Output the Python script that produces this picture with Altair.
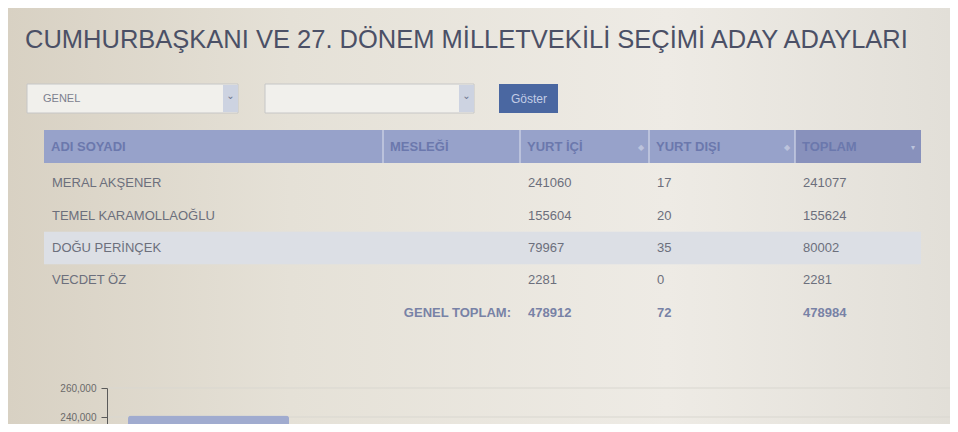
import altair as alt
import pandas as pd

# ---------------- data ----------------
baslik = "CUMHURBAŞKANI VE 27. DÖNEM MİLLETVEKİLİ SEÇİMİ ADAY ADAYLARI"
sutunlar = ["ADI SOYADI", "MESLEĞİ", "YURT İÇİ", "YURT DIŞI", "TOPLAM"]
adaylar = ["MERAL AKŞENER", "TEMEL KARAMOLLAOĞLU", "DOĞU PERİNÇEK", "VECDET ÖZ"]
yurt_ici = [241060, 155604, 79967, 2281]
yurt_disi = [17, 20, 35, 0]
toplam = [241077, 155624, 80002, 2281]
genel_toplam_etiket = "GENEL TOPLAM:"
genel_toplam = [478912, 72, 478984]
secim_turu = "GENEL"
buton = "Göster"
y_ticks = [240000, 260000]

W, H = 942, 416
FONT = "Liberation Sans"
one = pd.DataFrame({"k": [0]})

# ---------------- background ----------------
bg = alt.Chart(one).mark_rect(
    color=alt.Gradient(
        gradient="linear",
        stops=[
            alt.GradientStop(color="#d8d1c3", offset=0),
            alt.GradientStop(color="#e5e1d7", offset=0.3),
            alt.GradientStop(color="#eeebe5", offset=0.7),
            alt.GradientStop(color="#e2dfd8", offset=1),
        ],
        x1=0, x2=1, y1=0, y2=0,
    )
).encode(x=alt.value(0), x2=alt.value(W), y=alt.value(0), y2=alt.value(H))

title = alt.Chart(one).mark_text(
    text=baslik, align="left", baseline="alphabetic", font=FONT,
    fontSize=25.5, color="#4b5066",
).encode(x=alt.value(17), y=alt.value(40))

# ---------------- controls ----------------
def box(x0, x1, y0, y1, **kw):
    return alt.Chart(one).mark_rect(**kw).encode(
        x=alt.value(x0), x2=alt.value(x1), y=alt.value(y0), y2=alt.value(y1))

dd1 = box(19, 230, 76, 105, fill="#f1f0ec", stroke="#c6c6c6", strokeWidth=1)
dd1c = box(215, 230, 77, 104, fill="#cdd3e1")
dd2 = box(257, 466, 76, 105, fill="#f1f0ec", stroke="#c6c6c6", strokeWidth=1)
dd2c = box(451, 466, 77, 104, fill="#cdd3e1")
btn = box(491, 550, 76, 105, fill="#4a67a1")
dd1t = alt.Chart(one).mark_text(text=secim_turu, align="left", font=FONT, fontSize=11,
                                color="#7c808e").encode(x=alt.value(35), y=alt.value(91))
chev1 = alt.Chart(one).mark_text(text="⌄", font="DejaVu Sans", fontSize=10,
                                 color="#6e7590").encode(x=alt.value(222.5), y=alt.value(88))
chev2 = alt.Chart(one).mark_text(text="⌄", font="DejaVu Sans", fontSize=10,
                                 color="#6e7590").encode(x=alt.value(458.5), y=alt.value(88))
btnt = alt.Chart(one).mark_text(text=buton, font=FONT, fontSize=12,
                                color="#c3cde6").encode(x=alt.value(521), y=alt.value(91))

# ---------------- table ----------------
xs = alt.Scale(domain=[0, 1, 2, 3, 4, 5], range=[36, 375, 512, 641, 787, 913])
ys = alt.Scale(domain=[1, 6], range=[159, 321])

hdr = pd.DataFrame({
    "c": list(range(5)),
    "c1": list(range(1, 6)),
    "t": sutunlar,
    "sorted": [0, 0, 0, 0, 1],
})
hdr_rect = alt.Chart(hdr).mark_rect().encode(
    x=alt.X("c:Q", scale=xs, axis=None), x2="c1:Q",
    y=alt.value(122), y2=alt.value(155),
    color=alt.Color("sorted:N", scale=alt.Scale(domain=[0, 1], range=["#97a2ca", "#8891bc"]), legend=None),
)
hdr_sep = alt.Chart(hdr[hdr.c > 0]).mark_rule(color="#d3d8e8", strokeWidth=1.2).encode(
    x=alt.X("c:Q", scale=xs, axis=None), y=alt.value(122), y2=alt.value(155))
hdr_txt = alt.Chart(hdr).mark_text(align="left", font=FONT, fontSize=13, fontWeight="bold",
                                   color="#6b78ad", dx=7).encode(
    x=alt.X("c:Q", scale=xs, axis=None), y=alt.value(139), text="t:N")
icons = pd.DataFrame({"c": [3, 4, 5], "s": ["◆", "◆", "▾"]})
hdr_icon = alt.Chart(icons).mark_text(font="DejaVu Sans", fontSize=8, color="#bcc3dc", dx=-8).encode(
    x=alt.X("c:Q", scale=xs, axis=None), y=alt.value(140), text="s:N")

hl = pd.DataFrame({"c": [0], "c1": [5], "r": [3], "r1": [4]})
hl_rect = alt.Chart(hl).mark_rect(color="#dcdfe5").encode(
    x=alt.X("c:Q", scale=xs, axis=None), x2="c1:Q",
    y=alt.Y("r:Q", scale=ys, axis=None), y2="r1:Q")

cells = []
for i, ad in enumerate(adaylar):
    r = i + 1
    cells += [
        {"c": 0, "r": r, "t": ad},
        {"c": 2, "r": r, "t": str(yurt_ici[i])},
        {"c": 3, "r": r, "t": str(yurt_disi[i])},
        {"c": 4, "r": r, "t": str(toplam[i])},
    ]
cells = pd.DataFrame(cells)
body = alt.Chart(cells).transform_calculate(ym="datum.r + 0.5").mark_text(
    align="left", font=FONT, fontSize=13, color="#6c6f7c", dx=8).encode(
    x=alt.X("c:Q", scale=xs, axis=None), y=alt.Y("ym:Q", scale=ys, axis=None), text="t:N")

tot = pd.DataFrame({"c": [2, 3, 4], "r": [5, 5, 5], "t": [str(v) for v in genel_toplam]})
tot_txt = alt.Chart(tot).transform_calculate(ym="datum.r + 0.5").mark_text(
    align="left", font=FONT, fontSize=13, fontWeight="bold", color="#7882a6", dx=8).encode(
    x=alt.X("c:Q", scale=xs, axis=None), y=alt.Y("ym:Q", scale=ys, axis=None), text="t:N")
totl = pd.DataFrame({"c": [2], "r": [5], "t": [genel_toplam_etiket]})
tot_lbl = alt.Chart(totl).transform_calculate(ym="datum.r + 0.5").mark_text(
    align="right", font=FONT, fontSize=13, fontWeight="bold", color="#7882a6", dx=-9).encode(
    x=alt.X("c:Q", scale=xs, axis=None), y=alt.Y("ym:Q", scale=ys, axis=None), text="t:N")

table = alt.layer(hl_rect, hdr_rect, hdr_sep, hdr_txt, hdr_icon, body, tot_txt, tot_lbl)

# ---------------- bar chart ----------------
bdf = pd.DataFrame({"aday": adaylar, "toplam": toplam})
gdf = pd.DataFrame({"v": y_ticks})


def yscale():
    return alt.Scale(domain=[230000, 260000], range=[423.5, 380], zero=False)


grid = alt.Chart(gdf).mark_rule(color="#d9d7d0", strokeWidth=1).encode(
    y=alt.Y("v:Q", scale=yscale(), axis=None), x=alt.value(100), x2=alt.value(W))
bars = alt.Chart(bdf).mark_bar(color="#a0abcf", cornerRadiusTopLeft=3,
                               cornerRadiusTopRight=3).encode(
    x=alt.X("aday:N", sort=adaylar,
            scale=alt.Scale(range=[99, 920], paddingInner=0.218, paddingOuter=0.102), axis=None),
    y=alt.Y("toplam:Q", scale=yscale(),
            axis=alt.Axis(values=y_ticks, format=",.0f", offset=-99, orient="left", grid=False,
                          zindex=1, domainColor="#5a5a5a", tickColor="#5a5a5a",
                          labelColor="#6a6a6a", labelFont=FONT, labelFontSize=10,
                          tickSize=6, labelPadding=5, title=None)),
    y2=alt.value(H),
)

chart = alt.layer(
    bg, title, dd1, dd1c, dd2, dd2c, btn, dd1t, chev1, chev2, btnt, table, grid, bars
).resolve_scale(x="independent", y="independent", color="independent").properties(
    width=W, height=H, autosize=alt.AutoSizeParams(type="none"), padding=0,
    background="#e8e5dd",
).configure_view(stroke=None)

chart.save("out.html", embed_options={"renderer": "svg", "actions": False})
